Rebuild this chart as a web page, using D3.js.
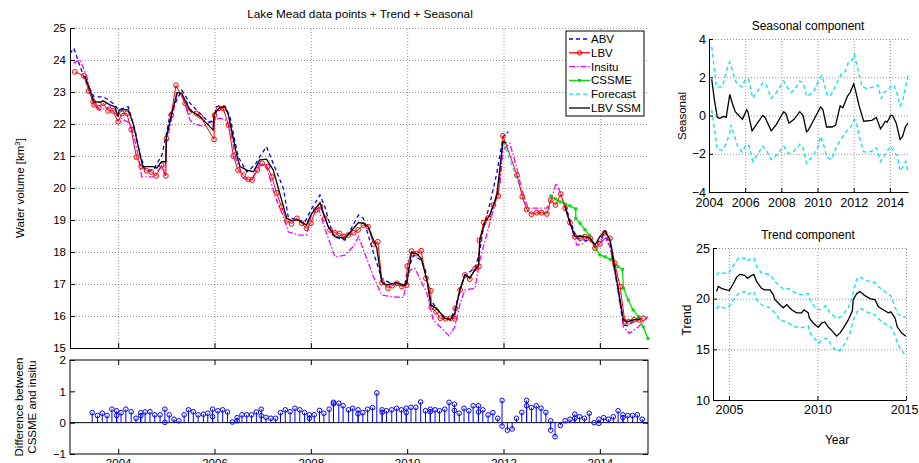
<!DOCTYPE html>
<html>
<head>
<meta charset="UTF-8">
<title>Lake Mead</title>
<script src="https://d3js.org/d3.v7.min.js"></script>
<style>
  body { margin: 0; background: #fff; }
  svg { font-family: "Liberation Sans", Arial, sans-serif; }
  .grid line { stroke: #777; stroke-dasharray: 1,2; stroke-width: 0.8; }
  .grid path { display: none; }
  .ax path, .ax line { stroke: #000; }
  .ax text { fill: #000; }
</style>
</head>
<body>
<svg id="chart" width="919" height="463"></svg>
<script>
// ---- main panel: Lake Mead volume series ----
const lbvYear = [2003.10,2003.29,2003.39,2003.48,2003.50,2003.60,2003.69,2003.79,2003.89,2004.00,2004.08,2004.18,2004.27,2004.38,2004.48,2004.59,2004.69,2004.79,2004.90,2004.99,2005.00,2005.10,2005.20,2005.39,2005.48,2005.62,2005.70,2005.99,2006.00,2006.09,2006.18,2006.29,2006.39,2006.49,2006.60,2006.70,2006.78,2006.89,2006.99,2007.10,2007.19,2007.29,2007.39,2007.50,2007.60,2007.71,2007.81,2007.91,2008.00,2008.10,2008.20,2008.29,2008.40,2008.50,2008.60,2008.69,2008.78,2008.89,2008.98,2009.09,2009.19,2009.30,2009.39,2009.48,2009.60,2009.69,2009.79,2009.89,2009.99,2010.00,2010.09,2010.19,2010.29,2010.39,2010.49,2010.50,2010.60,2010.69,2010.80,2010.90,2010.99,2011.00,2011.10,2011.20,2011.30,2011.41,2011.49,2011.50,2011.59,2011.69,2011.79,2011.89,2011.99,2012.28,2012.39,2012.48,2012.58,2012.69,2012.79,2012.90,2012.98,2013.08,2013.19,2013.28,2013.38,2013.48,2013.59,2013.69,2013.80,2013.90,2014.00,2014.10,2014.21,2014.31,2014.42,2014.52,2014.60,2014.71,2014.81,2014.90];
const lbvVal = [23.63,23.51,23.03,22.70,22.60,22.51,22.65,22.41,22.41,22.07,22.33,22.33,21.83,20.96,20.67,20.54,20.50,20.38,20.71,20.38,21.54,22.28,23.21,22.65,22.40,22.33,22.25,21.52,22.28,22.49,22.49,21.97,21.00,20.56,20.40,20.27,20.25,20.56,20.77,20.67,20.35,19.85,19.42,18.98,18.88,19.05,18.90,18.74,18.90,19.31,19.42,19.05,18.69,18.60,18.58,18.48,18.53,18.60,18.69,18.84,18.79,18.25,18.32,17.04,16.87,16.95,17.02,16.92,16.97,17.56,18.03,17.95,18.04,17.18,16.79,16.27,16.13,15.93,15.91,15.93,15.91,16.24,16.81,17.28,17.15,17.49,17.55,18.37,18.92,19.07,19.47,19.75,21.63,20.40,19.73,19.33,19.18,19.23,19.23,19.19,19.62,19.47,19.81,19.37,18.92,18.48,18.43,18.48,18.43,18.12,18.25,18.60,18.43,17.65,16.92,15.82,15.82,15.88,15.88,15.93];

const abvYear = [2003.00,2003.08,2003.21,2003.31,2003.50,2003.69,2003.80,2003.93,2004.00,2004.21,2004.35,2004.45,2004.56,2004.73,2004.85,2004.90,2004.99,2005.08,2005.32,2005.49,2005.70,2005.87,2006.00,2006.03,2006.22,2006.32,2006.49,2006.67,2006.84,2006.94,2007.08,2007.19,2007.43,2007.53,2007.71,2007.88,2008.00,2008.19,2008.29,2008.47,2008.71,2008.99,2009.09,2009.26,2009.47,2009.68,2009.95,2009.99,2010.13,2010.27,2010.37,2010.49,2010.61,2010.75,2010.89,2010.99,2011.10,2011.20,2011.41,2011.50,2011.58,2011.72,2011.86,2011.99,2012.10,2012.50,2013.28,2013.38,2013.52,2013.83,2013.95,2014.07,2014.21,2014.35,2014.49,2014.59,2014.69,2014.80];
const abvVal = [24.20,24.37,23.80,23.38,22.85,22.85,22.75,22.60,22.44,22.54,21.81,21.08,20.56,20.56,20.88,20.98,21.60,22.33,23.06,22.65,22.33,22.07,22.07,22.54,22.56,22.23,20.98,20.50,20.72,20.98,21.29,20.88,19.99,19.10,19.00,18.95,19.31,19.78,19.42,18.48,18.37,19.16,19.05,18.17,17.18,17.00,16.95,17.33,17.90,17.77,17.50,16.50,16.24,16.00,15.88,16.20,16.87,17.28,17.50,17.96,18.74,19.52,20.46,21.60,21.76,null,19.47,19.00,18.43,18.32,18.27,18.53,18.30,17.13,15.72,15.70,15.82,15.88];

const insituYear = [2003.07,2003.21,2003.35,2003.48,2003.62,2003.83,2003.97,2004.11,2004.25,2004.38,2004.49,2004.72,2004.90,2004.97,2005.00,2005.22,2005.32,2005.49,2005.56,2005.77,2005.97,2006.11,2006.22,2006.32,2006.43,2006.60,2006.77,2006.94,2007.08,2007.26,2007.46,2007.53,2007.74,2007.91,2008.00,2008.17,2008.29,2008.50,2008.71,2008.88,2008.99,2009.12,2009.30,2009.47,2009.68,2009.92,2010.06,2010.16,2010.41,2010.54,2010.75,2010.87,2010.99,2011.10,2011.20,2011.41,2011.51,2011.62,2011.75,2011.93,2011.99,2012.13,2012.27,2012.38,2012.51,2012.69,2012.90,2013.00,2013.09,2013.17,2013.28,2013.42,2013.52,2013.63,2013.80,2013.93,2014.11,2014.21,2014.35,2014.49,2014.61,2014.80,2015.00];
const insituVal = [23.90,24.00,23.48,22.65,22.44,22.54,22.28,22.13,22.02,21.29,20.35,20.35,20.67,20.40,21.40,22.90,22.96,22.13,22.02,21.92,22.13,22.18,22.13,21.92,20.98,20.30,20.25,20.77,20.67,19.73,19.00,18.63,18.53,18.53,19.10,19.31,18.74,17.85,17.90,18.17,18.48,17.96,17.23,16.66,16.60,16.58,17.44,17.49,16.71,15.88,15.56,15.38,15.66,16.40,16.81,16.87,17.75,18.37,19.10,20.15,21.19,21.40,20.67,19.94,19.37,19.37,19.37,19.68,20.15,19.89,19.40,18.69,18.22,18.25,18.43,18.17,18.43,18.17,17.02,15.66,15.46,15.66,15.98];

const cssmeYear = [2012.98,2013.08,2013.17,2013.28,2013.38,2013.50,2013.50,2013.59,2013.69,2013.78,2013.90,2014.00,2014.11,2014.22,2014.38,2014.47,2014.49,2014.59,2014.69,2014.80,2014.90,2015.00];
const cssmeVal = [19.75,19.66,19.57,19.50,19.44,19.35,19.05,18.90,18.70,18.53,18.15,17.91,17.85,17.77,17.54,17.46,16.87,16.50,16.19,15.98,15.66,15.30];

const forecastYear = [2012.00,2012.13,2012.27,2012.37,2012.49,2012.58,2012.79,2012.94,2012.98];
const forecastVal = [21.45,20.88,20.35,19.94,19.33,19.20,19.23,19.23,19.62];

const ssmYear = [2003.31,2003.50,2003.62,2003.69,2003.83,2003.93,2004.00,2004.02,2004.21,2004.31,2004.51,2004.73,2004.80,2004.90,2004.99,2005.00,2005.22,2005.32,2005.49,2005.70,2005.97,2005.99,2006.11,2006.22,2006.29,2006.46,2006.53,2006.67,2006.81,2006.94,2007.08,2007.22,2007.50,2007.60,2007.71,2007.91,2008.00,2008.19,2008.36,2008.50,2008.71,2008.99,2009.09,2009.19,2009.37,2009.47,2009.57,2009.78,2009.95,2009.99,2010.09,2010.20,2010.29,2010.41,2010.49,2010.61,2010.78,2010.89,2010.99,2011.10,2011.20,2011.30,2011.48,2011.51,2011.62,2011.72,2011.86,2011.99,2012.06,2012.50,2013.28,2013.38,2013.49,2013.59,2013.69,2013.80,2013.90,2014.00,2014.11,2014.21,2014.49,2014.56,2014.69,2014.83];
const ssmVal = [23.50,22.70,22.68,22.72,22.60,22.54,22.23,22.44,22.44,22.02,20.67,20.67,20.62,20.82,20.82,21.60,22.98,22.96,22.44,22.23,21.81,22.30,22.52,22.52,22.28,21.03,20.67,20.56,20.51,20.88,20.90,20.56,19.05,18.98,19.02,18.84,19.16,19.54,18.79,18.48,18.43,18.92,18.90,18.79,18.12,17.07,16.97,17.04,16.96,17.02,17.98,17.94,17.80,17.13,16.34,16.24,15.93,15.88,16.08,16.83,17.28,17.20,17.59,18.37,18.95,19.16,19.78,21.45,21.40,null,19.42,18.90,18.48,18.50,18.48,18.43,18.22,18.48,18.66,18.37,15.88,15.82,15.88,15.90];

// ---- difference panel (stems) ----
const stemYear = [2003.46,2003.57,2003.67,2003.77,2003.87,2003.97,2003.97,2004.06,2004.16,2004.27,2004.37,2004.47,2004.47,2004.56,2004.66,2004.76,2004.87,2004.97,2004.97,2005.06,2005.16,2005.26,2005.37,2005.46,2005.56,2005.66,2005.77,2005.86,2005.96,2005.96,2006.07,2006.17,2006.27,2006.37,2006.47,2006.47,2006.57,2006.67,2006.77,2006.87,2006.97,2006.97,2007.07,2007.17,2007.27,2007.37,2007.47,2007.57,2007.67,2007.77,2007.87,2007.97,2007.97,2008.07,2008.18,2008.27,2008.38,2008.47,2008.47,2008.58,2008.67,2008.78,2008.87,2008.98,2008.98,2009.08,2009.18,2009.28,2009.37,2009.48,2009.48,2009.57,2009.68,2009.78,2009.88,2009.98,2009.98,2010.08,2010.18,2010.28,2010.38,2010.48,2010.48,2010.58,2010.67,2010.78,2010.87,2010.98,2010.98,2011.08,2011.18,2011.28,2011.37,2011.48,2011.48,2011.57,2011.68,2011.78,2011.88,2011.97,2011.97,2012.08,2012.18,2012.27,2012.38,2012.48,2012.48,2012.58,2012.68,2012.78,2012.88,2012.98,2012.98,2013.07,2013.18,2013.28,2013.38,2013.48,2013.48,2013.58,2013.68,2013.78,2013.88,2013.98,2013.98,2014.08,2014.18,2014.28,2014.38,2014.48,2014.48,2014.58,2014.68,2014.78,2014.88];
const stemVal = [0.32,0.23,0.30,0.23,0.43,0.38,0.23,0.32,0.43,0.35,0.14,0.22,0.32,0.34,0.35,0.25,0.25,0.43,0.01,0.25,0.11,0.06,0.25,0.41,0.35,0.25,0.27,0.30,0.43,0.19,0.38,0.41,0.34,0.02,0.06,0.16,0.25,0.25,0.25,0.34,0.43,0.22,0.17,0.14,0.14,0.32,0.41,0.35,0.46,0.41,0.32,0.25,0.14,0.25,0.39,0.30,0.43,0.65,0.60,0.62,0.54,0.41,0.46,0.41,0.28,0.32,0.43,0.48,0.95,0.41,0.33,0.38,0.41,0.46,0.41,0.46,0.32,0.49,0.49,0.66,0.38,0.43,0.35,0.41,0.38,0.43,0.65,0.59,0.39,0.30,0.46,0.38,0.54,0.54,0.34,0.41,0.25,0.32,0.14,0.71,-0.11,-0.24,-0.20,0.14,0.33,0.71,0.54,0.48,0.54,0.46,0.33,0.06,-0.24,-0.45,-0.09,0.06,0.11,0.27,0.14,0.19,0.14,0.30,0.00,0.11,-0.02,0.16,0.11,0.19,0.38,0.25,0.16,0.23,0.23,0.25,0.11];

// ---- seasonal component ----
const seasYear = [2004.15,2004.30,2004.46,2004.60,2004.80,2004.95,2005.15,2005.30,2005.45,2005.65,2005.85,2006.08,2006.15,2006.38,2006.60,2006.97,2007.10,2007.44,2007.70,2008.13,2008.25,2008.42,2008.70,2009.02,2009.20,2009.39,2009.50,2009.75,2010.17,2010.30,2010.50,2010.80,2011.00,2011.25,2011.40,2011.65,2011.80,2012.00,2012.10,2012.30,2012.55,2013.00,2013.25,2013.48,2013.75,2013.85,2014.04,2014.15,2014.35,2014.56,2014.70,2014.85,2015.00];
const seasVal = [1.9,0.8,-0.1,-0.15,-0.05,-0.1,1.1,0.6,0.2,0.0,-0.2,0.3,0.2,-0.8,-0.5,0.0,-0.1,-0.8,-0.5,0.2,0.1,-0.4,-0.2,0.2,0.0,-0.85,-0.75,-0.3,0.45,0.3,-0.6,-0.6,-0.5,0.5,0.4,1.0,1.2,1.65,1.3,0.5,-0.3,-0.25,-0.1,-0.7,-0.3,-0.35,0.0,0.0,-0.4,-1.25,-1.1,-0.6,-0.4];
const seasUpYear = [2004.15,2004.41,2004.74,2005.02,2005.15,2005.34,2005.52,2005.82,2006.01,2006.19,2006.42,2006.70,2006.97,2007.16,2007.44,2007.72,2008.13,2008.37,2008.55,2008.83,2009.02,2009.20,2009.39,2009.76,2009.95,2010.23,2010.36,2010.51,2010.69,2010.88,2011.16,2011.34,2011.53,2011.71,2011.90,2012.03,2012.18,2012.46,2012.74,2013.11,2013.33,2013.52,2013.67,2013.85,2014.04,2014.22,2014.41,2014.56,2014.69,2014.87,2015.00];
const seasUpVal = [3.6,1.5,1.5,2.5,2.8,2.2,1.7,1.5,1.9,1.9,0.9,1.3,1.7,1.6,0.9,1.2,1.8,1.4,1.2,1.5,1.8,1.7,1.0,1.2,1.6,2.1,1.7,1.1,1.0,1.3,1.9,2.2,2.3,2.8,2.9,3.2,2.6,1.5,1.4,1.5,1.6,0.9,1.2,1.3,1.5,1.6,1.1,0.5,0.7,1.5,2.1];
const seasLoYear = [2004.15,2004.46,2004.74,2004.93,2005.15,2005.21,2005.39,2005.58,2005.82,2006.08,2006.23,2006.42,2006.70,2006.97,2007.16,2007.44,2007.62,2008.13,2008.42,2008.65,2009.02,2009.20,2009.39,2009.76,2010.04,2010.17,2010.36,2010.51,2010.78,2011.06,2011.25,2011.62,2011.84,2012.03,2012.18,2012.33,2012.55,2012.92,2013.26,2013.48,2013.76,2014.04,2014.22,2014.41,2014.56,2014.78,2014.87,2015.00];
const seasLoVal = [0.3,-1.8,-1.8,-1.5,-0.9,-0.5,-1.0,-1.6,-1.9,-1.5,-1.6,-2.4,-2.0,-1.6,-1.8,-2.3,-2.2,-1.6,-2.0,-1.9,-1.5,-1.7,-2.5,-2.1,-1.6,-1.1,-1.6,-2.2,-2.3,-1.6,-1.3,-0.8,-0.6,-0.2,-0.5,-1.2,-1.9,-1.9,-1.7,-2.4,-2.0,-1.6,-1.9,-2.1,-2.9,-2.6,-2.4,-2.9];

// ---- trend component ----
const trendYear = [2004.30,2004.40,2004.60,2004.87,2005.02,2005.25,2005.43,2005.62,2005.90,2006.04,2006.19,2006.41,2006.56,2006.85,2007.03,2007.32,2007.50,2007.60,2007.88,2008.07,2008.26,2008.54,2008.82,2009.10,2009.24,2009.48,2009.54,2009.76,2009.95,2010.05,2010.24,2010.42,2010.61,2010.89,2011.08,2011.27,2011.46,2011.74,2011.97,2012.02,2012.21,2012.40,2012.68,2012.97,2013.25,2013.44,2013.72,2014.00,2014.15,2014.38,2014.51,2014.76,2015.00];
const trendVal = [20.7,21.2,21.0,20.86,20.8,21.5,22.1,22.4,22.3,22.0,22.2,22.4,21.7,21.0,20.86,20.86,20.4,19.9,19.4,19.1,19.4,18.9,18.6,18.6,18.9,18.6,18.1,17.6,17.3,17.2,17.6,17.7,17.2,16.7,16.3,16.6,17.1,17.9,18.8,19.9,20.5,20.7,20.3,20.0,19.9,19.2,18.9,18.6,18.7,18.1,17.2,16.6,16.3];
const trendUpYear = [2004.30,2004.45,2004.77,2004.96,2005.25,2005.53,2005.90,2006.04,2006.19,2006.41,2006.56,2006.85,2007.32,2007.60,2007.88,2008.16,2008.35,2008.63,2009.01,2009.20,2009.48,2009.58,2009.86,2010.10,2010.33,2010.48,2010.71,2010.99,2011.18,2011.42,2011.74,2011.97,2012.21,2012.40,2012.68,2013.25,2013.44,2013.72,2014.00,2014.15,2014.38,2014.51,2014.76,2015.00];
const trendUpVal = [22.3,22.6,22.5,22.5,23.3,24.0,24.0,23.7,23.9,24.0,23.2,22.5,22.4,21.7,21.2,20.9,21.0,20.7,20.4,20.4,20.5,19.9,19.1,18.9,19.1,19.3,18.6,18.2,18.1,18.4,19.1,20.2,21.9,22.2,21.8,21.6,21.2,20.8,20.4,20.3,19.2,18.6,18.2,18.2];
const trendLoYear = [2004.30,2004.45,2004.68,2004.96,2005.25,2005.53,2005.90,2006.04,2006.41,2006.56,2006.85,2007.32,2007.60,2007.88,2008.26,2008.63,2009.01,2009.48,2009.58,2009.86,2010.05,2010.33,2010.52,2010.80,2011.08,2011.27,2011.55,2011.84,2012.02,2012.30,2012.50,2012.78,2013.25,2013.53,2013.91,2014.15,2014.38,2014.51,2014.76,2015.00];
const trendLoVal = [19.0,19.3,19.1,19.1,19.9,20.5,20.7,20.4,20.7,19.9,19.4,19.1,18.6,17.9,17.7,17.3,17.1,17.3,16.6,16.0,15.6,16.0,16.1,15.4,14.8,14.9,15.6,16.6,17.9,18.9,19.0,18.7,18.4,17.9,17.4,17.2,16.4,15.6,14.9,14.3];

const legendNames = ['ABV', 'LBV', 'Insitu', 'CSSME', 'Forecast', 'LBV SSM'];

function pairs(xs, vs) {
    return xs.map((t, i) => ({ t: t, v: vs[i] }));
}

const minus = d => d < 0 ? '\u2212' + Math.abs(d) : d;
const svg = d3.select('#chart');

// dotted grid for the MATLAB-like panels
function gridLines(g, x, y, xt, yt) {
    g.append('g').attr('class', 'grid')
        .attr('transform', `translate(0,${y.range()[0]})`)
        .call(d3.axisBottom(x).tickValues(xt).tickSize(-(y.range()[0] - y.range()[1])).tickFormat(''));
    g.append('g').attr('class', 'grid')
        .attr('transform', `translate(${x.range()[0]},0)`)
        .call(d3.axisLeft(y).tickValues(yt).tickSize(-(x.range()[1] - x.range()[0])).tickFormat(''));
}

// ================= main panel =================
const x = d3.scaleLinear().domain([2003, 2015]).range([70, 648]);
const y = d3.scaleLinear().domain([15, 25]).range([348, 28]);
const main = svg.append('g');

gridLines(main, x, y, d3.range(2004, 2015, 2), d3.range(16, 26, 1));

main.append('g').attr('class', 'ax')
    .attr('transform', 'translate(70,0)')
    .call(d3.axisLeft(y).tickValues(d3.range(15, 26, 1)).tickSize(-5).tickPadding(4).tickFormat(d3.format('d')))
    .call(g => g.selectAll('text').attr('font-size', 11.5));
main.append('g').attr('class', 'ax')
    .attr('transform', 'translate(0,348)')
    .call(d3.axisBottom(x).tickValues(d3.range(2004, 2015, 2)).tickSize(-5).tickSizeOuter(0).tickFormat(''));

svg.append('clipPath').attr('id', 'clipMain')
    .append('rect').attr('x', 70).attr('y', 20).attr('width', 580).attr('height', 330);

const plot = main.append('g').attr('clip-path', 'url(#clipMain)');
const line = d3.line().defined(d => d.v != null).x(d => x(d.t)).y(d => y(d.v));

plot.append('path').datum(pairs(insituYear, insituVal))
    .attr('d', line).attr('fill', 'none').attr('stroke', '#ff00ff').attr('stroke-width', 1.3)
    .attr('stroke-dasharray', '6,2,1.5,2');
plot.append('path').datum(pairs(abvYear, abvVal))
    .attr('d', line).attr('fill', 'none').attr('stroke', '#0000ff').attr('stroke-width', 1.3)
    .attr('stroke-dasharray', '4,3');
plot.append('path').datum(pairs(forecastYear, forecastVal))
    .attr('d', line).attr('fill', 'none').attr('stroke', '#00e5e5').attr('stroke-width', 1.3)
    .attr('stroke-dasharray', '4,3');
plot.append('path').datum(pairs(cssmeYear, cssmeVal))
    .attr('d', line).attr('fill', 'none').attr('stroke', '#00e000').attr('stroke-width', 1.3);
plot.selectAll('.cs').data(pairs(cssmeYear, cssmeVal)).enter().append('rect')
    .attr('x', d => x(d.t) - 1.5).attr('y', d => y(d.v) - 1.5)
    .attr('width', 3).attr('height', 3).attr('fill', '#00e000');
plot.append('path').datum(pairs(lbvYear, lbvVal))
    .attr('d', line).attr('fill', 'none').attr('stroke', '#ff0000').attr('stroke-width', 1);
plot.selectAll('.lbv').data(pairs(lbvYear, lbvVal)).enter().append('circle')
    .attr('cx', d => x(d.t)).attr('cy', d => y(d.v)).attr('r', 2.4)
    .attr('fill', 'none').attr('stroke', '#ff0000').attr('stroke-width', 1);
plot.append('path').datum(pairs(ssmYear, ssmVal))
    .attr('d', line).attr('fill', 'none').attr('stroke', '#000').attr('stroke-width', 1.3);

svg.append('text').attr('x', 360).attr('y', 18).attr('text-anchor', 'middle')
    .attr('font-size', 11.8).text('Lake Mead data points + Trend + Seasonal');

const yl = svg.append('text').attr('transform', 'translate(24,188) rotate(-90)')
    .attr('text-anchor', 'middle').attr('font-size', 11.5);
yl.append('tspan').text('Water volume [km');
yl.append('tspan').attr('baseline-shift', 'super').attr('font-size', 8).text('3');
yl.append('tspan').text(']');

// legend
const leg = svg.append('g');
leg.append('rect').attr('x', 566).attr('y', 31).attr('width', 78).attr('height', 85)
    .attr('fill', '#fff').attr('stroke', '#000').attr('stroke-width', 1);
const legStyle = [
    { c: '#0000ff', dash: '4,3' },
    { c: '#ff0000', dash: null, mark: 'circle' },
    { c: '#ff00ff', dash: '6,2,1.5,2' },
    { c: '#00e000', dash: null, mark: 'square' },
    { c: '#00e5e5', dash: '4,3' },
    { c: '#000000', dash: null }
];
legendNames.forEach((name, i) => {
    const ly = 39 + i * 13.8;
    leg.append('line').attr('x1', 569).attr('x2', 590).attr('y1', ly).attr('y2', ly)
        .attr('stroke', legStyle[i].c).attr('stroke-width', 1.3)
        .attr('stroke-dasharray', legStyle[i].dash);
    if (legStyle[i].mark === 'circle') {
        leg.append('circle').attr('cx', 579.5).attr('cy', ly).attr('r', 2.2)
            .attr('fill', 'none').attr('stroke', legStyle[i].c);
    } else if (legStyle[i].mark === 'square') {
        leg.append('rect').attr('x', 578).attr('y', ly - 1.5).attr('width', 3).attr('height', 3)
            .attr('fill', legStyle[i].c);
    }
    leg.append('text').attr('x', 591).attr('y', ly + 4).attr('font-size', 11.5).text(name);
});

// ================= difference panel =================
const yd = d3.scaleLinear().domain([-1, 2]).range([454, 360]);
const diff = svg.append('g');

diff.append('rect').attr('x', 70).attr('y', 360).attr('width', 578).attr('height', 94)
    .attr('fill', 'none').attr('stroke', '#000');
diff.append('g').attr('class', 'ax').attr('transform', 'translate(70,0)')
    .call(d3.axisLeft(yd).tickValues([-1, 0, 1, 2]).tickSize(-5).tickSizeOuter(0).tickPadding(4).tickFormat(minus))
    .call(g => g.select('.domain').remove())
    .call(g => g.selectAll('text').attr('font-size', 11.5));
diff.append('g').attr('class', 'ax').attr('transform', 'translate(648,0)')
    .call(d3.axisRight(yd).tickValues([-1, 0, 1, 2]).tickSize(-5).tickSizeOuter(0).tickFormat(''))
    .call(g => g.select('.domain').remove());
diff.append('g').attr('class', 'ax').attr('transform', 'translate(0,454)')
    .call(d3.axisBottom(x).tickValues(d3.range(2004, 2015, 2)).tickSize(-5).tickSizeOuter(0).tickPadding(5).tickFormat(d3.format('d')))
    .call(g => g.select('.domain').remove())
    .call(g => g.selectAll('text').attr('font-size', 11.5));
diff.append('g').attr('class', 'ax').attr('transform', 'translate(0,360)')
    .call(d3.axisTop(x).tickValues(d3.range(2004, 2015, 2)).tickSize(-5).tickSizeOuter(0).tickFormat(''))
    .call(g => g.select('.domain').remove());

diff.append('line').attr('x1', 70).attr('x2', 648).attr('y1', yd(0)).attr('y2', yd(0))
    .attr('stroke', '#000').attr('stroke-width', 1);
const stems = pairs(stemYear, stemVal);
diff.selectAll('.stem').data(stems).enter().append('line')
    .attr('x1', d => x(d.t)).attr('x2', d => x(d.t))
    .attr('y1', yd(0)).attr('y2', d => yd(d.v))
    .attr('stroke', '#0000ff').attr('stroke-width', 1);
diff.selectAll('.dot').data(stems).enter().append('circle')
    .attr('cx', d => x(d.t)).attr('cy', d => yd(d.v)).attr('r', 2.3)
    .attr('fill', 'none').attr('stroke', '#0000ff').attr('stroke-width', 1);

const dl = svg.append('text').attr('transform', 'translate(0,407) rotate(-90)')
    .attr('text-anchor', 'middle').attr('font-size', 11.5);
dl.append('tspan').attr('x', 0).attr('y', 23).text('Difference between');
dl.append('tspan').attr('x', 0).attr('y', 36).text('CSSME and insitu');

// ================= seasonal panel =================
const xs = d3.scaleLinear().domain([2004, 2015]).range([709, 908]);
const ys = d3.scaleLinear().domain([-4, 4]).range([192, 39]);
const seas = svg.append('g');
gridLines(seas, xs, ys, d3.range(2006, 2015, 2), [-2, 0, 2, 4]);
seas.append('g').attr('class', 'ax').attr('transform', 'translate(709,0)')
    .call(d3.axisLeft(ys).tickValues([-4, -2, 0, 2, 4]).tickSize(-4).tickSizeOuter(0).tickPadding(3).tickFormat(minus))
    .call(g => g.selectAll('text').attr('font-size', 12.5));
seas.append('g').attr('class', 'ax').attr('transform', 'translate(0,192)')
    .call(d3.axisBottom(xs).tickValues(d3.range(2004, 2015, 2)).tickSize(-4).tickSizeOuter(0).tickPadding(6).tickFormat(d3.format('d')))
    .call(g => g.selectAll('text').attr('font-size', 12.5));
const lineS = d3.line().x(d => xs(d.t)).y(d => ys(d.v));
seas.append('path').datum(pairs(seasUpYear, seasUpVal)).attr('d', lineS)
    .attr('fill', 'none').attr('stroke', '#00e5e5').attr('stroke-width', 1.3).attr('stroke-dasharray', '4,3');
seas.append('path').datum(pairs(seasLoYear, seasLoVal)).attr('d', lineS)
    .attr('fill', 'none').attr('stroke', '#00e5e5').attr('stroke-width', 1.3).attr('stroke-dasharray', '4,3');
seas.append('path').datum(pairs(seasYear, seasVal)).attr('d', lineS)
    .attr('fill', 'none').attr('stroke', '#000').attr('stroke-width', 1.3);
svg.append('text').attr('x', 808).attr('y', 30).attr('text-anchor', 'middle')
    .attr('font-size', 12).text('Seasonal component');
svg.append('text').attr('transform', 'translate(686,116) rotate(-90)')
    .attr('text-anchor', 'middle').attr('font-size', 11.5).text('Seasonal');

// ================= trend panel =================
const xt = d3.scaleLinear().domain([2004.1, 2015]).range([713, 906]);
const ytr = d3.scaleLinear().domain([10, 25]).range([400, 248]);
const tr = svg.append('g');
gridLines(tr, xt, ytr, [2005, 2010, 2015], [15, 20, 25]);
tr.append('g').attr('class', 'ax').attr('transform', 'translate(713,0)')
    .call(d3.axisLeft(ytr).tickValues([10, 15, 20, 25]).tickSize(-4).tickSizeOuter(0).tickPadding(3))
    .call(g => g.selectAll('text').attr('font-size', 12.5));
tr.append('g').attr('class', 'ax').attr('transform', 'translate(0,400)')
    .call(d3.axisBottom(xt).tickValues([2005, 2010, 2015]).tickSize(-4).tickSizeOuter(0).tickPadding(5).tickFormat(d3.format('d')))
    .call(g => g.selectAll('text').attr('font-size', 12.5))
    .call(g => g.selectAll('.tick').filter(d => d === 2015).select('text').attr('text-anchor', 'end').attr('x', 12));
const lineT = d3.line().x(d => xt(d.t)).y(d => ytr(d.v));
tr.append('path').datum(pairs(trendUpYear, trendUpVal)).attr('d', lineT)
    .attr('fill', 'none').attr('stroke', '#00e5e5').attr('stroke-width', 1.3).attr('stroke-dasharray', '4,3');
tr.append('path').datum(pairs(trendLoYear, trendLoVal)).attr('d', lineT)
    .attr('fill', 'none').attr('stroke', '#00e5e5').attr('stroke-width', 1.3).attr('stroke-dasharray', '4,3');
tr.append('path').datum(pairs(trendYear, trendVal)).attr('d', lineT)
    .attr('fill', 'none').attr('stroke', '#000').attr('stroke-width', 1.3);
svg.append('text').attr('x', 808).attr('y', 239).attr('text-anchor', 'middle')
    .attr('font-size', 12).text('Trend component');
svg.append('text').attr('transform', 'translate(691,320) rotate(-90)')
    .attr('text-anchor', 'middle').attr('font-size', 12).text('Trend');
svg.append('text').attr('x', 837).attr('y', 444).attr('text-anchor', 'middle')
    .attr('font-size', 12).text('Year');
</script>
</body>
</html>
